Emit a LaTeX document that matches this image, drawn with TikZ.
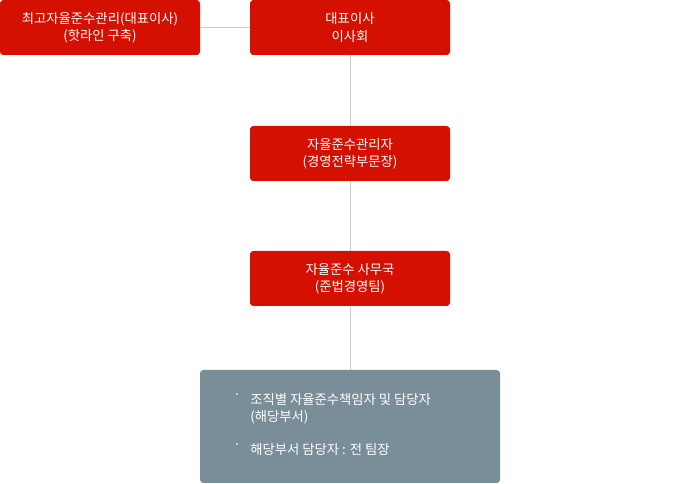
\documentclass[tikz,border=0pt]{standalone}
\usepackage{fontspec}
\setmainfont{Noto Sans CJK KR}
\begin{document}
\begin{tikzpicture}[x=0.75pt,y=-0.75pt,
  redbox/.style={fill={rgb,255:red,212;green,16;blue,0},rounded corners=2.5pt,draw=none,text=white,font=\fontsize{10}{13}\selectfont,align=center,minimum width=150pt,minimum height=41.25pt,inner sep=0pt},
  link/.style={draw={rgb,255:red,204;green,204;blue,204},line width=0.75pt}]
\useasboundingbox (0,0) rectangle (700,484);
\node[redbox] (chief) at (100,27.5) {최고자율준수관리(대표이사)\\(핫라인 구축)};
\node[redbox] (ceo) at (350,27.5) {대표이사\\이사회};
\node[redbox] (mgr) at (350,153.5) {자율준수관리자\\(경영전략부문장)};
\node[redbox] (off) at (350,278.5) {자율준수 사무국\\(준법경영팀)};
\node[fill={rgb,255:red,122;green,142;blue,153},rounded corners=2.5pt,minimum width=225pt,minimum height=84.75pt,inner sep=0pt] (dept) at (350,426.5) {};
\draw[link] (chief) -- (ceo);
\draw[link] (ceo) -- (mgr);
\draw[link] (mgr) -- (off);
\draw[link] (off) -- (dept);
\node[text=white,font=\fontsize{10}{13}\selectfont,anchor=north west,align=left,inner sep=0pt] (t1) at (250,393) {조직별 자율준수책임자 및 담당자\\(해당부서)};
\node[text=white,font=\fontsize{10}{13}\selectfont,anchor=north west,inner sep=0pt] (t2) at (250,443) {해당부서 담당자 : 전 팀장};
\node[text=white,font=\fontsize{10}{13}\selectfont,inner sep=0pt,anchor=north] (b1) at (237,393) {·};
\node[text=white,font=\fontsize{10}{13}\selectfont,inner sep=0pt,anchor=north] (b2) at (237,443) {·};
\end{tikzpicture}
\end{document}
